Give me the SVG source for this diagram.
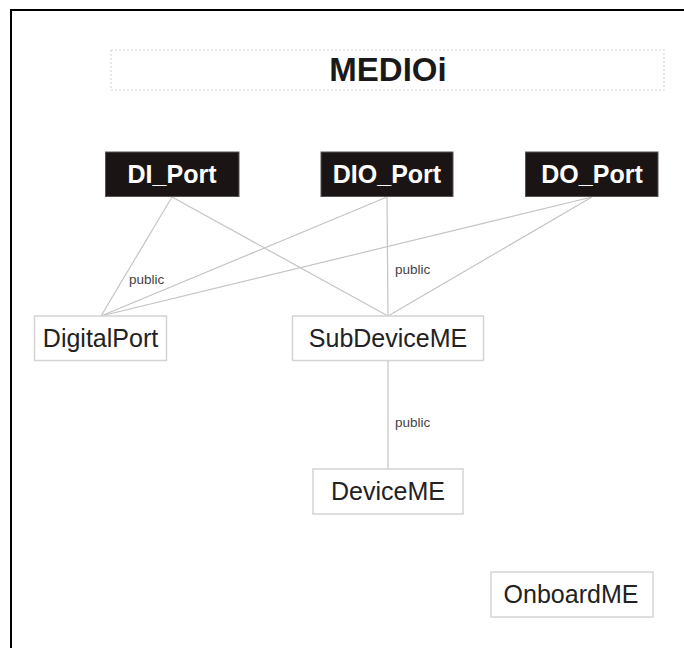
<svg xmlns="http://www.w3.org/2000/svg" width="684" height="648" viewBox="0 0 684 648">
<style>
.frame{fill:none;stroke:#000;stroke-width:2}
.port rect{fill:#1a1414;stroke:#555;stroke-width:1}
.port text{fill:#fff;font-family:"Liberation Sans",Arial,sans-serif;font-weight:bold;font-size:25px;text-anchor:middle}
.cls rect{fill:#fff;stroke:#d4d4d4;stroke-width:1.5}
.cls text{fill:#222;font-family:"Liberation Sans",Arial,sans-serif;font-size:25px;text-anchor:middle}
.conn line{stroke:#c4c4c4;stroke-width:1.2}
.lbl{fill:#444;font-family:"Liberation Sans",Arial,sans-serif;font-size:13.5px}
</style>
<rect width="684" height="648" fill="#fff"/>
<rect class="frame" x="11" y="10" width="700" height="660"/>
<g id="title">
<rect x="111" y="50" width="553" height="40" fill="none" stroke="#d8d8d8" stroke-width="1.2" stroke-dasharray="2,2"/>
<text x="388" y="81" font-family="'Liberation Sans',Arial,sans-serif" font-weight="bold" font-size="33" fill="#1a1a1a" text-anchor="middle">MEDIOi</text>
</g>
<g id="connectors" class="conn">
<line x1="172" y1="197" x2="101" y2="316"/>
<line x1="172" y1="197" x2="388" y2="316"/>
<line x1="387" y1="197" x2="101" y2="316"/>
<line x1="387" y1="197" x2="388" y2="316"/>
<line x1="592" y1="197" x2="101" y2="316"/>
<line x1="592" y1="197" x2="388" y2="316"/>
<line x1="388" y1="361" x2="388" y2="469"/>
<text class="lbl" x="129" y="284">public</text>
<text class="lbl" x="395" y="274">public</text>
<text class="lbl" x="395" y="427">public</text>
</g>
<g id="DI_Port" class="port"><rect x="105.5" y="152" width="133.5" height="44.5"/><text x="172" y="183">DI_Port</text></g>
<g id="DIO_Port" class="port"><rect x="321" y="152" width="132" height="44.5"/><text x="387" y="183">DIO_Port</text></g>
<g id="DO_Port" class="port"><rect x="525.5" y="152" width="132.5" height="44.5"/><text x="592" y="183">DO_Port</text></g>
<g id="DigitalPort" class="cls"><rect x="34.5" y="316" width="132" height="44.5"/><text x="100.5" y="347">DigitalPort</text></g>
<g id="SubDeviceME" class="cls"><rect x="292.5" y="316" width="191" height="44.5"/><text x="388" y="347">SubDeviceME</text></g>
<g id="DeviceME" class="cls"><rect x="313" y="469" width="150" height="45"/><text x="388" y="500">DeviceME</text></g>
<g id="OnboardME" class="cls"><rect x="491" y="572" width="162" height="45"/><text x="571" y="603">OnboardME</text></g>
</svg>
